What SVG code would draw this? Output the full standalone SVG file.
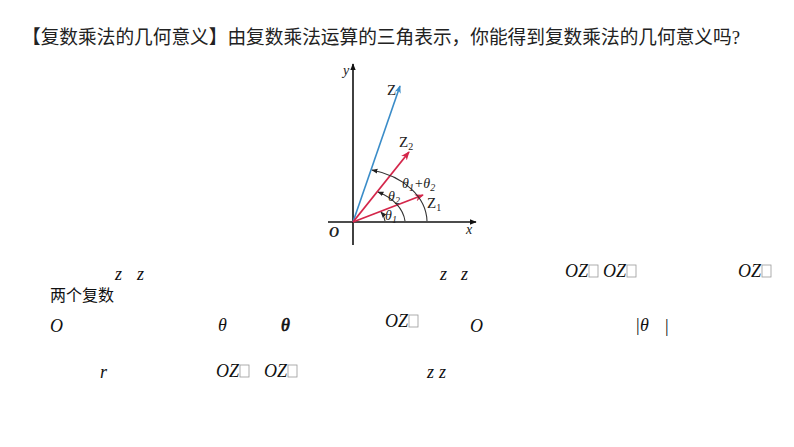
<svg xmlns="http://www.w3.org/2000/svg" width="794" height="447" viewBox="0 0 794 447">
<style>
.title{font-family:"Liberation Serif","Noto Sans CJK SC",serif;font-size:19px;fill:#222}
.cjk{font-family:"Liberation Serif","Noto Sans CJK SC",serif;font-size:16px;fill:#111}
.m{font-family:"Liberation Serif",serif;font-style:italic;font-size:18px;fill:#111}
.lab{font-family:"Liberation Serif",serif;font-style:italic;font-size:14px;fill:#222}
.labn{font-family:"Liberation Serif",serif;font-size:15px;fill:#222}
.sub{font-family:"Liberation Serif",serif;font-size:10px;fill:#222}
.box{fill:none;stroke:#999;stroke-width:0.8}
.ax{stroke:#111;stroke-width:1.6;fill:none}
.arc{stroke:#333;stroke-width:1.1;fill:none}
</style>
<defs>
<marker id="ahK" viewBox="0 0 10 10" refX="9" refY="5" markerWidth="7" markerHeight="7" markerUnits="userSpaceOnUse" orient="auto"><path d="M0,1 L10,5 L0,9 Z" fill="#111"/></marker>
<marker id="ahB" viewBox="0 0 10 10" refX="9" refY="5" markerWidth="8" markerHeight="8" markerUnits="userSpaceOnUse" orient="auto"><path d="M0,1 L10,5 L0,9 L3,5 Z" fill="#3a8cc8"/></marker>
<marker id="ahR" viewBox="0 0 10 10" refX="9" refY="5" markerWidth="9" markerHeight="9" markerUnits="userSpaceOnUse" orient="auto"><path d="M0,1 L10,5 L0,9 L3,5 Z" fill="#d4264a"/></marker>
<marker id="ahS" viewBox="0 0 10 10" refX="9" refY="5" markerWidth="6" markerHeight="6" markerUnits="userSpaceOnUse" orient="auto"><path d="M0,1 L10,5 L0,9 Z" fill="#222"/></marker>
</defs>
<rect width="794" height="447" fill="#fff"/>

<text class="title" x="22" y="44" textLength="718" lengthAdjust="spacingAndGlyphs">【复数乘法的几何意义】由复数乘法运算的三角表示，你能得到复数乘法的几何意义吗?</text>

<g id="figure">
  <g id="axes">
    <line class="ax" x1="328" y1="222" x2="476" y2="222" marker-end="url(#ahK)"/>
    <line class="ax" x1="353" y1="245" x2="353" y2="64" marker-end="url(#ahK)"/>
    <text class="lab" x="343" y="75" font-size="15">y</text>
    <text class="lab" x="466" y="234" font-size="15">x</text>
    <text class="lab" x="329" y="237" font-size="15" font-weight="bold">O</text>
  </g>
  <g id="connectors">
    <line x1="353" y1="222" x2="400" y2="86" stroke="#3a8cc8" stroke-width="1.6" marker-end="url(#ahB)"/>
    <line x1="353" y1="222" x2="409" y2="152" stroke="#d4264a" stroke-width="1.8" marker-end="url(#ahR)"/>
    <line x1="353" y1="222" x2="423" y2="195" stroke="#d4264a" stroke-width="1.8" marker-end="url(#ahR)"/>
    <path class="arc" d="M427,221 A74,54 0 0 0 372,170" marker-end="url(#ahS)"/>
    <path class="arc" d="M405,221 A52,37 0 0 0 378,192" marker-end="url(#ahS)"/>
    <path class="arc" d="M385,221 A30,20 0 0 0 381,212" marker-end="url(#ahS)"/>
  </g>
  <g id="labels">
    <text class="labn" x="387" y="95">Z</text>
    <text class="labn" x="399" y="147">Z<tspan class="sub" dy="3">2</tspan></text>
    <text class="labn" x="427" y="208">Z<tspan class="sub" dy="3">1</tspan></text>
    <text class="lab" x="402" y="188">θ<tspan class="sub" dy="3">1</tspan><tspan dy="-3">+θ</tspan><tspan class="sub" dy="3">2</tspan></text>
    <text class="lab" x="388" y="201">θ<tspan class="sub" dy="3">2</tspan></text>
    <text class="lab" x="385" y="220">θ<tspan class="sub" dy="3">1</tspan></text>
  </g>
</g>

<g id="row1">
  <text class="cjk" x="50" y="301">两个复数</text>
  <text class="m" x="115" y="280">z</text>
  <text class="m" x="137" y="280">z</text>
  <text class="m" x="440" y="280">z</text>
  <text class="m" x="461" y="280">z</text>
  <text class="m" x="565" y="277">OZ</text><rect class="box" x="589" y="265" width="9" height="12"/>
  <text class="m" x="603" y="277">OZ</text><rect class="box" x="627" y="265" width="9" height="12"/>
  <text class="m" x="738" y="277">OZ</text><rect class="box" x="762" y="265" width="9" height="12"/>
</g>
<g id="row2">
  <text class="m" x="50" y="332">O</text>
  <text class="m" x="218" y="331">θ</text>
  <text class="m" x="281" y="331" stroke="#111" stroke-width="0.7">θ</text>
  <text class="m" x="385" y="327">OZ</text><rect class="box" x="409" y="315" width="9" height="12"/>
  <text class="m" x="470" y="332">O</text>
  <text class="m" x="635" y="331">|θ</text>
  <text class="m" x="664" y="332" font-style="normal" fill="#111">|</text>
</g>
<g id="row3">
  <text class="m" x="100" y="378">r</text>
  <text class="m" x="216" y="377">OZ</text><rect class="box" x="240" y="365" width="9" height="12"/>
  <text class="m" x="264" y="377">OZ</text><rect class="box" x="288" y="365" width="9" height="12"/>
  <text class="m" x="427" y="378">z</text>
  <text class="m" x="439" y="378">z</text>
</g>
</svg>
